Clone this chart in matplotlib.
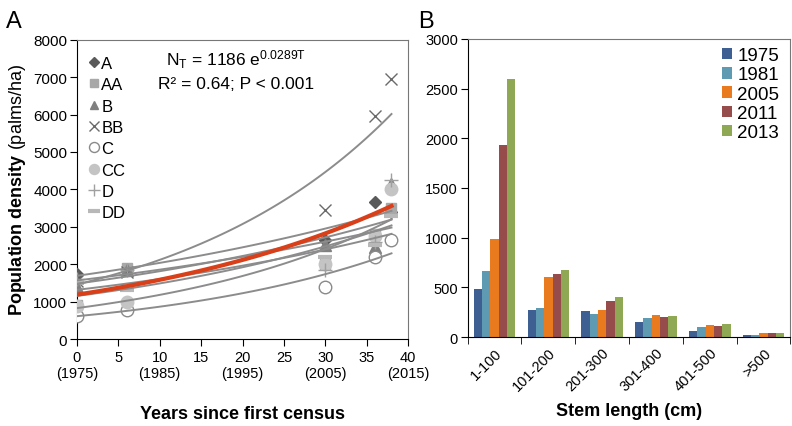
import numpy as np
import matplotlib.pyplot as plt

plt.rcParams['font.family'] = ['Liberation Sans', 'DejaVu Sans']
plt.rcParams['mathtext.fontset'] = 'custom'
plt.rcParams['mathtext.rm'] = 'Liberation Sans'
plt.rcParams['mathtext.bf'] = 'Liberation Sans:bold'
plt.rcParams['mathtext.it'] = 'Liberation Sans'

# panel A: population density per site at each census
years_since = [0, 6, 30, 36, 38]
site_names = ['A', 'AA', 'B', 'BB', 'C', 'CC', 'D', 'DD']
site_density = {
    'A':  [1750, 1850, 2650, 3650, 3400],
    'AA': [900, 1900, 2000, 2800, 3500],
    'B':  [1400, 1850, 2500, 2450, 4150],
    'BB': [1550, 1800, 3450, 5950, 6950],
    'C':  [620, 780, 1380, 2200, 2650],
    'CC': [880, 1000, 2000, 2750, 4000],
    'D':  [1600, 1850, 1850, 2600, 4250],
    'DD': [1500, 1300, 2200, 2500, 3300],
}
fit_n0 = 1186
fit_r = 0.0289

# panel B: stem length classes
stem_classes = ['1-100', '101-200', '201-300', '301-400', '401-500', '>500']
census_years = ['1975', '1981', '2005', '2011', '2013']
stem_counts = {
    '1975': [480, 275, 265, 155, 60, 20],
    '1981': [665, 290, 235, 190, 100, 20],
    '2005': [990, 600, 270, 220, 120, 45],
    '2011': [1935, 635, 365, 200, 110, 45],
    '2013': [2600, 670, 405, 210, 130, 45],
}

site_style = {
    'A':  dict(marker='D', color='#5a5a5a', ms=6, mfc='#5a5a5a'),
    'AA': dict(marker='s', color='#a8a8a8', ms=7, mfc='#a8a8a8'),
    'B':  dict(marker='^', color='#808080', ms=8, mfc='#808080'),
    'BB': dict(marker='x', color='#6a6a6a', ms=9, mfc='none'),
    'C':  dict(marker='o', color='#8a8a8a', ms=9, mfc='white'),
    'CC': dict(marker='o', color='#c4c4c4', ms=9, mfc='#c4c4c4'),
    'D':  dict(marker='+', color='#a0a0a0', ms=10, mfc='none'),
    'DD': dict(marker='_', color='#b8b8b8', ms=10, mfc='none', mew=3),
}
bar_colors = ['#3d5f91', '#5e9bb3', '#ea7a1e', '#954c4a', '#8fa853']

fig = plt.figure(figsize=(7.92, 4.27), dpi=100)
ax1 = fig.add_axes([0.0972, 0.2037, 0.418, 0.701])
ax2 = fig.add_axes([0.5905, 0.2084, 0.4075, 0.698])

# ---- panel A
T = np.array(years_since)
tt = np.linspace(0, 38, 100)
for name in site_names:
    st = dict(site_style[name])
    mew = st.pop('mew', 1.0)
    ax1.plot(T, site_density[name], linestyle='none', mec=st['color'],
             mew=mew, label=name, zorder=3, **st)
for name in site_names:
    k, b = np.polyfit(T, np.log(site_density[name]), 1)
    ax1.plot(tt, np.exp(b + k * tt), color='#8c8c8c', lw=1.4, zorder=4)
ax1.plot(tt, fit_n0 * np.exp(fit_r * tt), color='#d9401a', lw=3, zorder=5)

ax1.set_xlim(0, 40)
ax1.set_ylim(0, 8000)
ax1.set_xticks(range(0, 41, 5))
ax1.set_xticklabels(['0\n(1975)', '5', '10\n(1985)', '15', '20\n(1995)', '25',
                     '30\n(2005)', '35', '40\n(2015)'], fontsize=10.5, linespacing=1.2)
ax1.set_yticks(range(0, 8001, 1000))
ax1.tick_params(axis='y', labelsize=11, direction='out', length=5, pad=2)
ax1.tick_params(axis='x', direction='out', length=5, pad=3)
for s in ['top', 'right']:
    ax1.spines[s].set_color('#777777')
ax1.set_xlabel('Years since first census', fontsize=13, fontweight='bold', labelpad=18)
ax1.set_ylabel(r'$\bf{Population\ density}$ (palms/ha)', fontsize=13, labelpad=4)

ax1.text(0.48, 0.935, r'N$_\mathregular{T}$ = 1186 e$^{\mathregular{0.0289T}}$',
         transform=ax1.transAxes, ha='center', va='center', fontsize=12.5)
ax1.text(0.48, 0.855, 'R² = 0.64; P < 0.001', transform=ax1.transAxes,
         ha='center', va='center', fontsize=12.5)

ax1.legend(loc='upper left', bbox_to_anchor=(0.0, 0.985), frameon=False,
           fontsize=12, handlelength=0.6, handletextpad=0.15, markerscale=0.8,
           labelspacing=0.38, borderaxespad=0.3, numpoints=1)

# ---- panel B
x = np.arange(len(stem_classes))
w = 0.155
for i, yr in enumerate(census_years):
    ax2.bar(x + (i - 2) * w, stem_counts[yr], width=w, color=bar_colors[i], label=yr)
ax2.set_xlim(-0.5, len(stem_classes) - 0.5)
ax2.set_ylim(0, 3000)
ax2.set_yticks(range(0, 3001, 500))
ax2.set_xticks(x)
ax2.set_xticklabels(stem_classes, rotation=45, ha='right', rotation_mode='anchor',
                    fontsize=10.5)
ax2.set_xticks(np.arange(-0.5, len(stem_classes), 1), minor=True)
ax2.tick_params(axis='x', which='major', length=0, pad=6)
ax2.tick_params(axis='x', which='minor', length=5, direction='out')
ax2.tick_params(axis='y', labelsize=10.5, direction='out', length=5, pad=2)
for s in ['top', 'right']:
    ax2.spines[s].set_color('#777777')
ax2.set_xlabel('Stem length (cm)', fontsize=13, fontweight='bold', labelpad=6)
ax2.legend(loc='upper right', bbox_to_anchor=(1.0, 1.01), frameon=False,
           fontsize=13.5, handlelength=0.55, handleheight=0.55,
           handletextpad=0.25, labelspacing=0.12, borderaxespad=0.2)

fig.text(0.008, 0.975, 'A', fontsize=17, va='top')
fig.text(0.528, 0.975, 'B', fontsize=17, va='top')

fig.savefig('out.png', dpi=100)
